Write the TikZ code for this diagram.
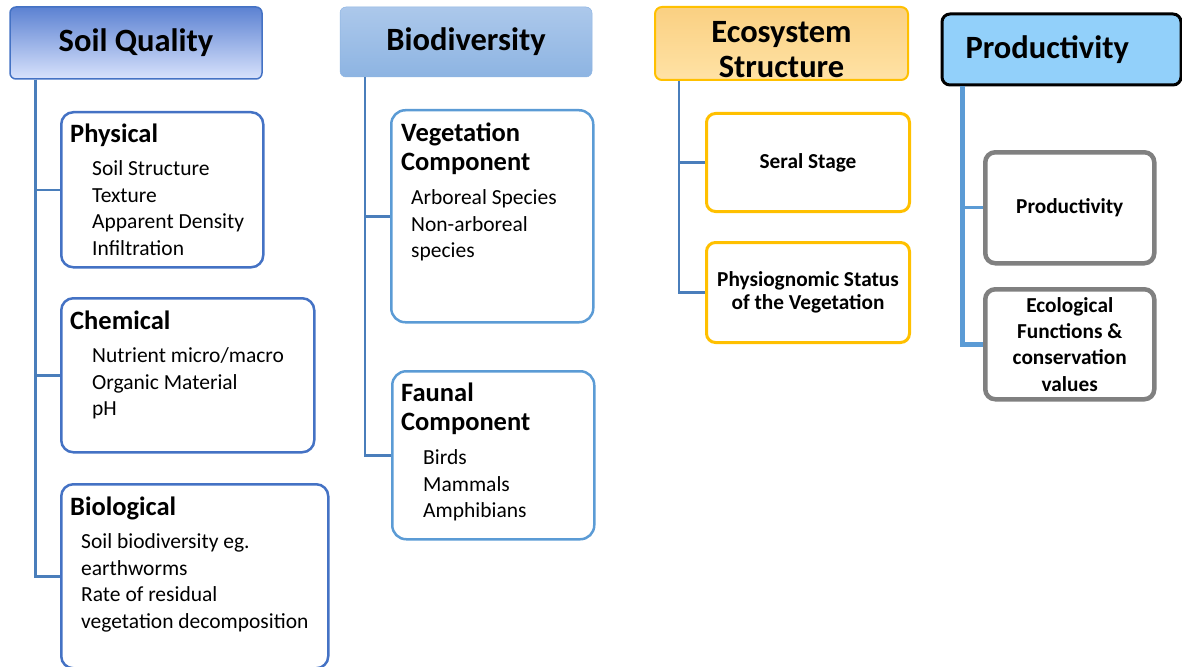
\documentclass[tikz,border=0pt]{standalone}
\usepackage{fontspec}
\setmainfont{Carlito}
\usetikzlibrary{positioning}
\usepackage{xcolor}

\definecolor{sqline}{RGB}{68,114,196}
\definecolor{sqtop}{RGB}{92,130,210}
\definecolor{sqmid}{RGB}{185,202,244}
\definecolor{sqbot}{RGB}{216,226,252}
\definecolor{bdline}{RGB}{91,155,213}
\definecolor{bdtop}{RGB}{172,200,235}
\definecolor{bdbot}{RGB}{141,180,226}
\definecolor{esline}{RGB}{255,192,0}
\definecolor{estop}{RGB}{250,208,130}
\definecolor{esbot}{RGB}{255,226,165}
\definecolor{prfill}{RGB}{146,208,250}
\definecolor{prgray}{RGB}{128,128,128}
\definecolor{connline}{RGB}{74,126,187}

\begin{document}
\begin{tikzpicture}[x=1pt, y=-1pt,
    head/.style = {rectangle, align=center, inner sep=0pt, font=\fontsize{32.5}{35}\selectfont\bfseries},
    sqhead/.style = {head, draw=sqline, line width=1.5pt, rounded corners=6pt, top color=sqtop, middle color=sqmid, bottom color=sqbot},
    bdhead/.style = {head, draw=bdbot, line width=0.5pt, rounded corners=6pt, top color=bdtop, bottom color=bdbot},
    eshead/.style = {head, draw=esline, line width=2pt, rounded corners=7pt, top color=estop, bottom color=esbot},
    prhead/.style = {head, draw=black, line width=3pt, rounded corners=8pt, fill=prfill},
    sqbox/.style = {rectangle, anchor=north west, draw=sqline, line width=2.5pt, rounded corners=12pt},
    bdbox/.style = {rectangle, anchor=north west, draw=bdline, line width=2.5pt, rounded corners=14pt},
    esbox/.style = {rectangle, anchor=north west, draw=esline, line width=3pt, rounded corners=9pt, align=center, inner sep=0pt, font=\fontsize{21.3}{23.5}\selectfont\bfseries},
    prbox/.style = {rectangle, anchor=north west, draw=prgray, line width=4.5pt, rounded corners=10pt, align=center, inner sep=0pt, font=\fontsize{21.3}{26.3}\selectfont\bfseries},
    ttl/.style = {anchor=north west, inner sep=0pt, align=left, font=\fontsize{26.5}{29}\selectfont\bfseries},
    itm/.style = {anchor=north west, inner sep=0pt, align=left, font=\fontsize{21.5}{26.5}\selectfont},
    conn/.style = {draw=connline, line width=2.5pt},
    prconn/.style = {draw=bdline, line width=5pt}
]
\useasboundingbox (0,0) rectangle (1182,666);

% Soil Quality
\node (sq) [sqhead, minimum width=252pt, minimum height=72pt] at (136,43) {Soil Quality};
\node (phys) [sqbox, minimum width=202pt, minimum height=155pt] at (60,111) {};
\node (chem) [sqbox, minimum width=253pt, minimum height=154pt] at (60,297) {};
\node (bio) [sqbox, minimum width=267pt, minimum height=184pt] at (60,483) {};
\node (phys-t) [ttl] at (70,124) {Physical};
\node (phys-i) [itm] at (92,160.5) {Soil Structure\\Texture\\Apparent Density\\Infiltration};
\node (chem-t) [ttl] at (70,311) {Chemical};
\node (chem-i) [itm] at (92,347.5) {Nutrient micro/macro\\Organic Material\\pH};
\node (bio-t) [ttl] at (70,497) {Biological};
\node (bio-i) [itm] at (81,533.5) {Soil biodiversity eg.\\earthworms\\Rate of residual\\vegetation decomposition};

% Biodiversity
\node (bd) [bdhead, minimum width=252pt, minimum height=70pt] at (466,42) {Biodiversity};
\node (veg) [bdbox, minimum width=202pt, minimum height=212pt] at (390,109) {};
\node (fau) [bdbox, minimum width=202pt, minimum height=168pt] at (391,370) {};
\node (veg-t) [ttl] at (401,123) {Vegetation\\Component};
\node (veg-i) [itm] at (411,189.5) {Arboreal Species\\Non-arboreal\\species};
\node (fau-t) [ttl] at (401,383) {Faunal\\Component};
\node (fau-i) [itm] at (423,449.5) {Birds\\Mammals\\Amphibians};

% Ecosystem Structure
\node (es) [eshead, minimum width=253pt, minimum height=73pt] at (781.5,43.5) {\rule{0pt}{34pt}Ecosystem\\Structure};
\node (seral) [esbox, minimum width=203pt, minimum height=98pt] at (705,112) {Seral Stage};
\node (phys2) [esbox, minimum width=203pt, minimum height=100pt] at (705,241) {Physiognomic Status\\of the Vegetation};

% Productivity
\node (pr) [prhead, minimum width=239pt, minimum height=71pt, text width=192pt, align=left] at (1061.5,49.5) {Productivity};
\node (prod) [prbox, minimum width=169pt, minimum height=111pt] at (983,150) {Productivity};
\node (ecol) [prbox, minimum width=169pt, minimum height=110pt] at (983,287) {Ecological\\Functions \&\\conservation\\values};

% Connections
\draw [conn] ([xshift=26pt]sq.south west) |- (phys.west);
\draw [conn] ([xshift=26pt]sq.south west) |- (chem.west);
\draw [conn] ([xshift=26pt]sq.south west) |- (bio.west);
\draw [conn] ([xshift=25pt]bd.south west) |- (veg.west);
\draw [conn] ([xshift=25pt]bd.south west) |- (fau.west);
\draw [conn] ([xshift=25pt]es.south west) |- (seral.west);
\draw [conn] ([xshift=25pt]es.south west) |- (phys2.west);
\draw [prconn] ([xshift=22pt]pr.south west) |- (ecol.west);
\draw [conn, draw=bdline, line width=3pt] ([xshift=22pt]pr.south west) |- (prod.west);

\end{tikzpicture}
\end{document}
